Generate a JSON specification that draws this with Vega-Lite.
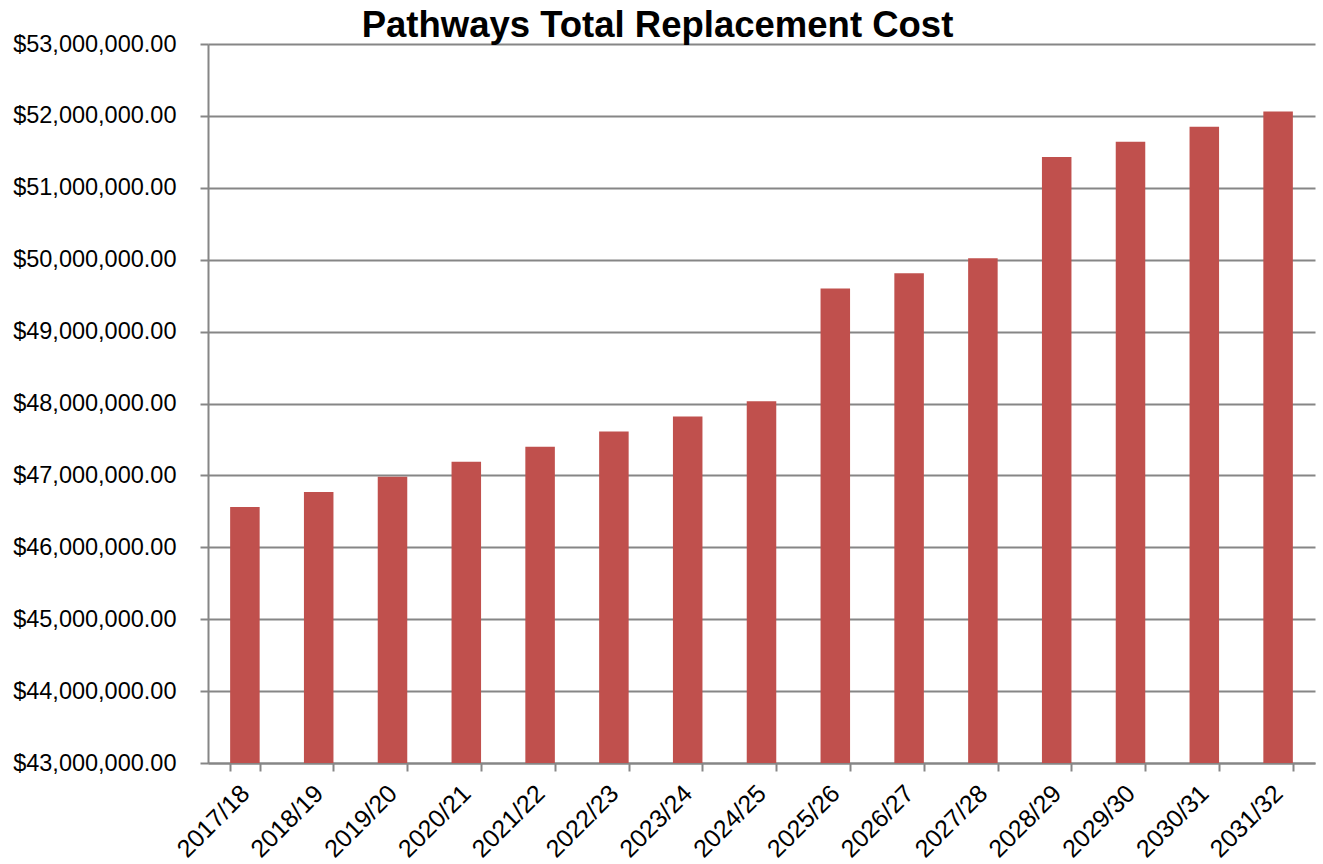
{
  "$schema": "https://vega.github.io/schema/vega-lite/v6.json",
  "autosize": "none",
  "width": 1107,
  "height": 719,
  "padding": {"left": 208, "top": 44, "right": 8, "bottom": 101},
  "background": "white",
  "title": {
    "text": "Pathways Total Replacement Cost",
    "font": "Liberation Sans",
    "fontSize": 36.5,
    "fontWeight": "bold",
    "color": "#000000",
    "anchor": "middle",
    "baseline": "alphabetic",
    "offset": 0,
    "dy": 41,
    "dx": -104
  },
  "data": {
    "values": [
      {"year": "2017/18", "cost": 46560000},
      {"year": "2018/19", "cost": 46770000},
      {"year": "2019/20", "cost": 46980000},
      {"year": "2020/21", "cost": 47190000},
      {"year": "2021/22", "cost": 47400000},
      {"year": "2022/23", "cost": 47610000},
      {"year": "2023/24", "cost": 47820000},
      {"year": "2024/25", "cost": 48030000},
      {"year": "2025/26", "cost": 49600000},
      {"year": "2026/27", "cost": 49810000},
      {"year": "2027/28", "cost": 50020000},
      {"year": "2028/29", "cost": 51430000},
      {"year": "2029/30", "cost": 51640000},
      {"year": "2030/31", "cost": 51850000},
      {"year": "2031/32", "cost": 52060000}
    ]
  },
  "mark": {"type": "bar", "color": "#C0504D", "clip": true},
  "encoding": {
    "x": {
      "field": "year",
      "type": "ordinal",
      "sort": null,
      "title": null,
      "scale": {"paddingInner": 0.6, "paddingOuter": 0.3},
      "axis": {
        "labelAngle": -45,
        "labelAlign": "right",
        "labelBaseline": "middle",
        "labelFont": "Liberation Sans",
        "labelFontSize": 25,
        "labelColor": "#000000",
        "labelPadding": 18,
        "labelOverlap": false,
        "tickBand": "extent",
        "tickSize": 8,
        "tickColor": "#868686",
        "tickWidth": 2,
        "domainColor": "#868686",
        "domainWidth": 2,
        "grid": false
      }
    },
    "y": {
      "field": "cost",
      "type": "quantitative",
      "title": null,
      "scale": {"domain": [43000000, 53000000], "zero": false, "nice": false},
      "axis": {
        "values": [43000000, 44000000, 45000000, 46000000, 47000000, 48000000, 49000000, 50000000, 51000000, 52000000, 53000000],
        "format": "$,.2f",
        "labelFont": "Liberation Sans",
        "labelFontSize": 23.5,
        "labelColor": "#000000",
        "labelPadding": 24,
        "labelOverlap": false,
        "tickSize": 8,
        "tickColor": "#868686",
        "tickWidth": 2,
        "domainColor": "#868686",
        "domainWidth": 2,
        "grid": true,
        "gridColor": "#868686",
        "gridWidth": 2
      }
    }
  },
  "config": {"view": {"stroke": null}}
}
